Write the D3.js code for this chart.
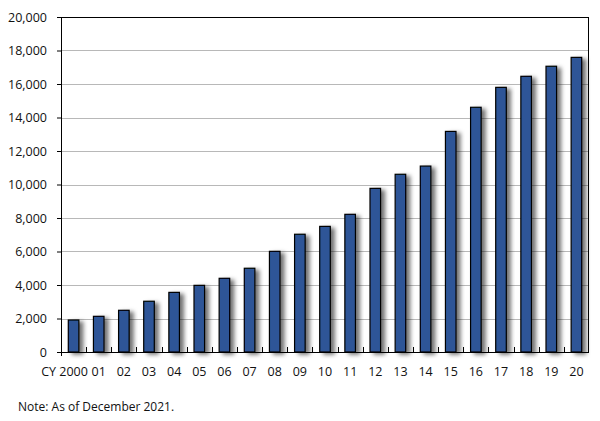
<!DOCTYPE html>
<html>
<head>
<meta charset="utf-8">
<script src="https://cdn.jsdelivr.net/npm/d3@7"></script>
<style>
  body { margin: 0; background: #fff; }
  text { font-family: "Open Sans", "Noto Sans", sans-serif; fill: #111; }
</style>
</head>
<body>
<div id="chart"></div>
<script>
var years = ['2000', '01', '02', '03', '04', '05', '06', '07', '08', '09', '10',
    '11', '12', '13', '14', '15', '16', '17', '18', '19', '20'];
var counts = [1910, 2130, 2490, 3030, 3560, 3980, 4400, 5000, 6010, 7030, 7500,
    8220, 9770, 10610, 11100, 13170, 14610, 15800, 16460, 17060, 17590];
var yTicks = [0, 2000, 4000, 6000, 8000, 10000, 12000, 14000, 16000, 18000, 20000];
var note = 'Note: As of December 2021.';

var width = 600;
var height = 421;
var margin = { top: 17, right: 11, bottom: 69, left: 61 };
var innerW = width - margin.left - margin.right;
var innerH = height - margin.top - margin.bottom;

var svg = d3.select('#chart')
    .append('svg')
    .attr('width', width)
    .attr('height', height);

// soft shadow to the right of each bar
var defs = svg.append('defs');
var filter = defs.append('filter')
    .attr('id', 'shadow')
    .attr('x', '-20%').attr('y', '-10%')
    .attr('width', '200%').attr('height', '130%');
filter.append('feDropShadow')
    .attr('dx', 4)
    .attr('dy', 2)
    .attr('stdDeviation', 2.2)
    .attr('flood-color', '#000')
    .attr('flood-opacity', 0.55);

var g = svg.append('g')
    .attr('transform', 'translate(' + margin.left + ',' + margin.top + ')');

var x = d3.scaleBand()
    .domain(years)
    .range([0, innerW])
    .paddingInner(0.58)
    .paddingOuter(0.29);

var y = d3.scaleLinear()
    .domain([0, 20000])
    .range([innerH, 0]);

// gridlines
g.append('g')
    .selectAll('line')
    .data(yTicks.filter((d) => d > 0 && d < 20000))
    .enter()
    .append('line')
    .attr('x1', 0)
    .attr('x2', innerW)
    .attr('y1', (d) => Math.round(y(d)) + 0.5)
    .attr('y2', (d) => Math.round(y(d)) + 0.5)
    .attr('stroke', '#b8b8b8')
    .attr('stroke-width', 1);

// bars
g.append('g')
    .selectAll('rect')
    .data(counts)
    .enter()
    .append('rect')
    .attr('x', (d, i) => x(years[i]))
    .attr('y', (d) => y(d))
    .attr('width', x.bandwidth())
    .attr('height', (d) => innerH - y(d))
    .attr('fill', '#2e5597')
    .attr('stroke', '#000')
    .attr('stroke-width', 1.2)
    .attr('filter', 'url(#shadow)');

// frame: top and right border
g.append('line')
    .attr('x1', 0).attr('x2', innerW)
    .attr('y1', 0.5).attr('y2', 0.5)
    .attr('stroke', '#000');
g.append('line')
    .attr('x1', innerW - 0.5).attr('x2', innerW - 0.5)
    .attr('y1', 0).attr('y2', innerH)
    .attr('stroke', '#000');

// y axis
var yAxis = g.append('g')
    .call(d3.axisLeft(y)
        .tickValues(yTicks)
        .tickSize(4)
        .tickPadding(10)
        .tickFormat(d3.format(',')));
yAxis.select('.domain')
    .attr('d', 'M0.5,0V' + (innerH + 4));
yAxis.selectAll('line').attr('stroke', '#000');
yAxis.selectAll('text')
    .attr('font-size', 12.5)
    .attr('font-family', '"Open Sans", "Noto Sans", sans-serif')
    .attr('fill', '#111');
yAxis.select('.domain').attr('stroke', '#000');

// x axis: baseline with small inward ticks between categories
var xAxis = g.append('g')
    .attr('transform', 'translate(0,' + innerH + ')');
xAxis.append('line')
    .attr('x1', -4).attr('x2', innerW)
    .attr('y1', 0.5).attr('y2', 0.5)
    .attr('stroke', '#000')
    .attr('stroke-width', 1.2);
var step = x.step();
xAxis.selectAll('line.sep')
    .data(years.slice(1))
    .enter()
    .append('line')
    .attr('class', 'sep')
    .attr('x1', (d) => Math.round(x(d) - x.paddingInner() * step / 2) + 0.5)
    .attr('x2', (d) => Math.round(x(d) - x.paddingInner() * step / 2) + 0.5)
    .attr('y1', 0)
    .attr('y2', -5)
    .attr('stroke', '#000');

var labels = xAxis.selectAll('text.lab')
    .data(years)
    .enter()
    .append('text')
    .attr('class', 'lab')
    .attr('x', (d) => x(d) + x.bandwidth() / 2)
    .attr('y', 24)
    .attr('font-size', 12.5)
    .attr('text-anchor', 'middle')
    .text((d) => d);

// first label carries a "CY " prefix, with the year itself centred on the bar
var first = labels.filter((d, i) => i === 0);
var yearW = first.node().getComputedTextLength();
first.attr('text-anchor', 'end')
    .attr('x', x(years[0]) + x.bandwidth() / 2 + yearW / 2)
    .text('CY ' + years[0]);

// note
svg.append('text')
    .attr('x', 18)
    .attr('y', 411)
    .attr('font-size', 12)
    .text(note);
</script>
</body>
</html>
